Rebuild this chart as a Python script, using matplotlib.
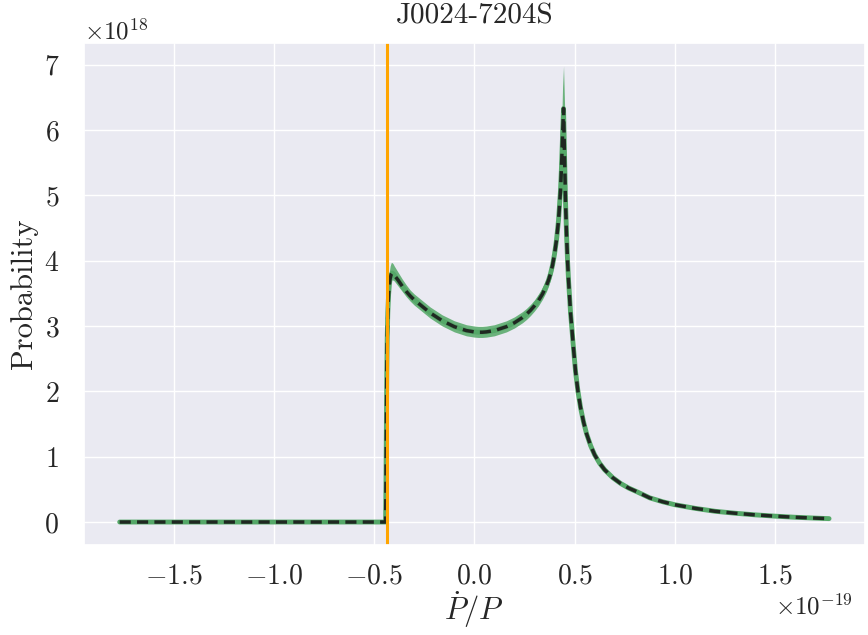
import numpy as np
import matplotlib
matplotlib.use("Agg")
import matplotlib.pyplot as plt
import seaborn as sns

sns.set_theme(style="darkgrid")
plt.rcParams['font.family'] = ['cmr10']
plt.rcParams['mathtext.fontset'] = 'cm'
plt.rcParams['axes.formatter.use_mathtext'] = True
plt.rcParams['axes.unicode_minus'] = False

# P-dot/P values (units of 1e-19) and probability (units of 1e18)
pdot = [-1.77, -1.0, -0.5, -0.443, -0.441, -0.439, -0.437, -0.435, -0.432, -0.428,
        -0.424, -0.42, -0.415, -0.41, -0.405, -0.40, -0.39, -0.38, -0.37, -0.36,
        -0.34, -0.32, -0.30, -0.28, -0.26, -0.24, -0.22, -0.20, -0.18, -0.16,
        -0.14, -0.12, -0.10, -0.08, -0.06, -0.04, -0.02, 0.0, 0.02, 0.04,
        0.06, 0.08, 0.10, 0.12, 0.14, 0.16, 0.18, 0.20, 0.22, 0.24,
        0.26, 0.28, 0.30, 0.32, 0.34, 0.36, 0.37, 0.38, 0.39, 0.40,
        0.41, 0.42, 0.43, 0.435, 0.44, 0.445, 0.45, 0.455, 0.46, 0.465,
        0.47, 0.475, 0.48, 0.487, 0.495, 0.505, 0.517, 0.53, 0.545, 0.56,
        0.58, 0.60, 0.625, 0.65, 0.69, 0.73, 0.77, 0.81, 0.875, 0.94,
        1.0, 1.1, 1.2, 1.3, 1.4, 1.5, 1.6, 1.7, 1.77]
prob = [0, 0, 0, 0, 0.6, 1.5, 2.3, 2.8, 3.2, 3.48,
        3.64, 3.73, 3.79, 3.81, 3.80, 3.78, 3.74, 3.70, 3.655, 3.61,
        3.53, 3.46, 3.40, 3.35, 3.30, 3.25, 3.20, 3.16, 3.12, 3.08,
        3.05, 3.02, 2.99, 2.97, 2.95, 2.93, 2.92, 2.91, 2.905, 2.905,
        2.91, 2.92, 2.93, 2.95, 2.97, 2.99, 3.02, 3.05, 3.09, 3.13,
        3.18, 3.24, 3.31, 3.39, 3.49, 3.62, 3.70, 3.80, 3.93, 4.10,
        4.32, 4.62, 5.08, 5.45, 5.90, 6.33, 5.60, 4.90, 4.40, 4.00,
        3.70, 3.45, 3.20, 2.95, 2.65, 2.30, 2.00, 1.75, 1.53, 1.35,
        1.17, 1.03, 0.90, 0.80, 0.68, 0.59, 0.52, 0.465, 0.37, 0.31,
        0.265, 0.21, 0.165, 0.135, 0.11, 0.09, 0.073, 0.06, 0.052]
prob_lo = [0, 0, 0, 0, 0.5, 1.4, 2.2, 2.7, 3.1, 3.38,
           3.54, 3.63, 3.69, 3.71, 3.70, 3.69, 3.65, 3.61, 3.57, 3.53,
           3.45, 3.38, 3.32, 3.27, 3.22, 3.17, 3.12, 3.08, 3.04, 3.00,
           2.97, 2.94, 2.91, 2.89, 2.87, 2.85, 2.84, 2.83, 2.825, 2.825,
           2.83, 2.84, 2.85, 2.87, 2.89, 2.91, 2.94, 2.97, 3.01, 3.05,
           3.10, 3.16, 3.23, 3.31, 3.41, 3.53, 3.61, 3.71, 3.83, 4.00,
           4.21, 4.50, 4.95, 5.30, 5.75, 6.15, 5.45, 4.80, 4.32, 3.93,
           3.64, 3.40, 3.16, 2.92, 2.63, 2.28, 1.98, 1.74, 1.52, 1.34,
           1.16, 1.02, 0.89, 0.79, 0.672, 0.583, 0.514, 0.46, 0.366, 0.306,
           0.262, 0.207, 0.163, 0.133, 0.108, 0.089, 0.072, 0.059, 0.051]
prob_hi = [0, 0, 0, 0, 0.7, 1.6, 2.45, 2.95, 3.38, 3.68,
           3.84, 3.92, 3.97, 3.97, 3.95, 3.92, 3.87, 3.82, 3.77, 3.72,
           3.63, 3.55, 3.49, 3.44, 3.39, 3.34, 3.29, 3.25, 3.21, 3.17,
           3.14, 3.11, 3.08, 3.06, 3.04, 3.02, 3.01, 3.00, 2.995, 2.995,
           3.00, 3.01, 3.02, 3.04, 3.06, 3.08, 3.11, 3.14, 3.18, 3.22,
           3.27, 3.33, 3.40, 3.49, 3.59, 3.73, 3.82, 3.92, 4.06, 4.24,
           4.48, 4.85, 5.45, 6.00, 6.65, 6.98, 6.40, 5.30, 4.60, 4.10,
           3.78, 3.50, 3.24, 2.98, 2.67, 2.32, 2.02, 1.76, 1.54, 1.36,
           1.18, 1.04, 0.91, 0.81, 0.688, 0.597, 0.526, 0.47, 0.374, 0.314,
           0.268, 0.213, 0.167, 0.137, 0.112, 0.091, 0.074, 0.061, 0.053]
pdot_obs = -0.435

scale_x = 1e-19
scale_y = 1e18

fig = plt.figure(figsize=(8.68, 6.35), dpi=100)
ax = fig.add_axes([0.097, 0.142, 0.899, 0.79])

x = np.array(pdot) * scale_x
ax.fill_between(x, np.array(prob_lo) * scale_y, np.array(prob_hi) * scale_y,
                color='#55a868', alpha=0.85, lw=0)
ax.plot(x, np.array(prob) * scale_y, color='#55a868', lw=3.5)
ax.plot(x, np.array(prob) * scale_y, color='k', lw=2.5, ls='--', dashes=(3.2, 1.8),
        alpha=0.9)
ax.axvline(pdot_obs * scale_x, color='orange', lw=2.2)

ax.set_title('J0024-7204S', fontsize=21, y=1.0, pad=14)
ax.set_xlabel(r'$\dot{P}/P$', fontsize=22, labelpad=0)
ax.set_ylabel('Probability', fontsize=22)
ax.tick_params(labelsize=20)
ax.tick_params(axis='x', pad=7)
ax.tick_params(axis='y', pad=12)
ax.xaxis.get_offset_text().set_fontsize(18)
ax.xaxis.get_offset_text().set_x(0.985)
ax.yaxis.get_offset_text().set_fontsize(18)

fig.savefig('out.png', dpi=100)
